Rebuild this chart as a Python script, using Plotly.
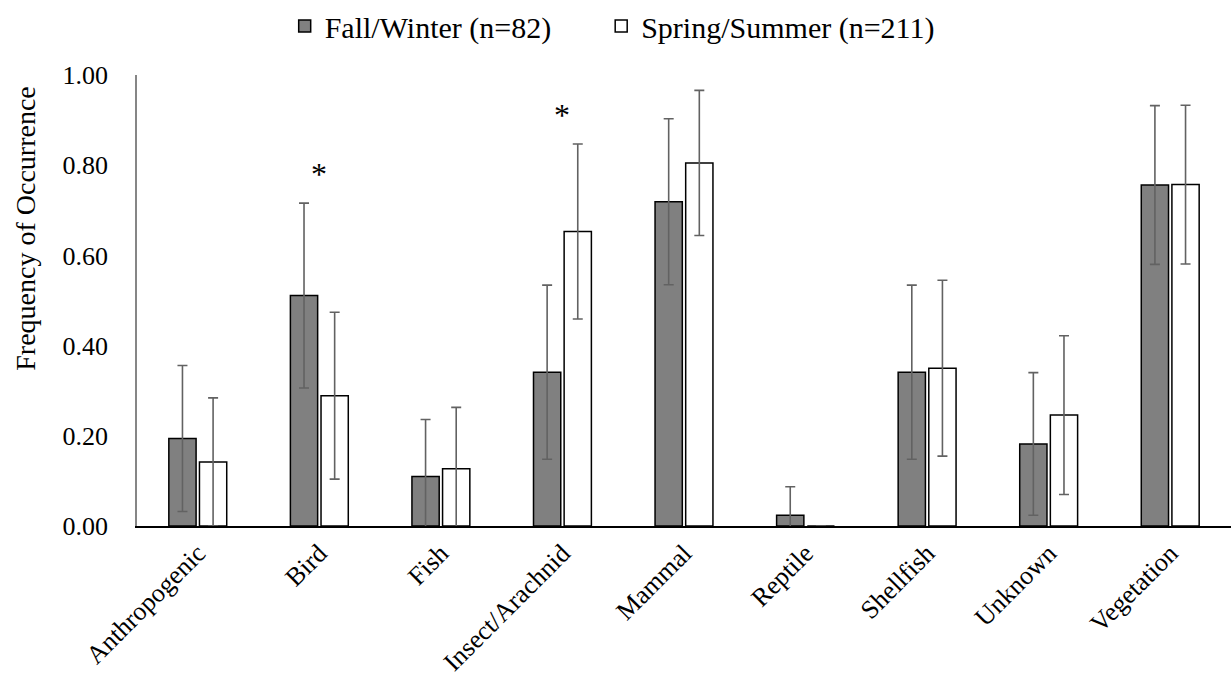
import plotly.graph_objects as go

categories = ["Anthropogenic", "Bird", "Fish", "Insect/Arachnid", "Mammal",
              "Reptile", "Shellfish", "Unknown", "Vegetation"]
fall_values = [0.194, 0.511, 0.110, 0.341, 0.719, 0.024, 0.341, 0.182, 0.756]
fall_errors = [0.162, 0.205, 0.126, 0.193, 0.184, 0.063, 0.193, 0.158, 0.176]
spring_values = [0.142, 0.289, 0.127, 0.653, 0.805, 0.0, 0.350, 0.246, 0.757]
spring_errors = [0.142, 0.185, 0.136, 0.194, 0.161, 0.0, 0.195, 0.176, 0.176]
series_names = ["Fall/Winter (n=82)", "Spring/Summer (n=211)"]
significant = ["Bird", "Insect/Arachnid"]
y_ticks = [0.0, 0.2, 0.4, 0.6, 0.8, 1.0]

FONT = "Liberation Serif, Times New Roman, serif"
ERR_COLOR = "#626262"
PAD = "\u00a0" * 6  # extra spacing between the two legend entries

fig = go.Figure()
fig.add_trace(go.Bar(
    name=series_names[0] + PAD, x=categories, y=fall_values,
    marker=dict(color="#808080", line=dict(color="black", width=1.5)),
    error_y=dict(type="data", array=fall_errors, visible=True,
                 color=ERR_COLOR, thickness=1.6, width=5),
))
fig.add_trace(go.Bar(
    name=series_names[1], x=categories, y=spring_values,
    marker=dict(color="white", line=dict(color="black", width=1.5)),
    error_y=dict(type="data", array=spring_errors, visible=True,
                 color=ERR_COLOR, thickness=1.6, width=5),
))

for cat in significant:
    i = categories.index(cat)
    top = max(fall_values[i] + fall_errors[i], spring_values[i] + spring_errors[i])
    fig.add_annotation(x=cat, y=top + 0.02, text="*", showarrow=False,
                       yanchor="bottom", xanchor="center",
                       font=dict(family=FONT, size=32, color="black"))

# y-axis title placed as an annotation (sits in the upper part, as in the reference)
fig.add_annotation(text="Frequency of Occurrence", textangle=-90,
                   xref="paper", yref="paper", x=-0.102, y=0.66,
                   xanchor="center", yanchor="middle", showarrow=False,
                   font=dict(family=FONT, size=28, color="black"))

fig.update_layout(
    width=1231, height=698,
    margin=dict(l=137, r=0, t=75, b=171.5, autoexpand=False),
    paper_bgcolor="white", plot_bgcolor="white",
    barmode="group", bargap=0.496, bargroupgap=0.11,
    font=dict(family=FONT, size=24, color="black"),
    showlegend=True,
    legend=dict(orientation="h", x=0.135, xanchor="left",
                yref="container", y=1.0, yanchor="top",
                font=dict(family=FONT, size=30, color="black"),
                itemclick=False, traceorder="normal"),
    xaxis=dict(showline=True, linecolor="black", linewidth=1.5,
               showgrid=False, ticks="", tickangle=-45,
               tickfont=dict(family=FONT, size=26, color="black"),
               zeroline=False),
    yaxis=dict(range=[0, 1], tickvals=y_ticks, tickformat=".2f",
               showline=True, linecolor="#868686", linewidth=1.5,
               showgrid=False, zeroline=False,
               ticks="outside", ticklen=22, tickcolor="rgba(0,0,0,0)",
               tickfont=dict(family=FONT, size=26, color="black")),
)

fig.write_html("out.html")
